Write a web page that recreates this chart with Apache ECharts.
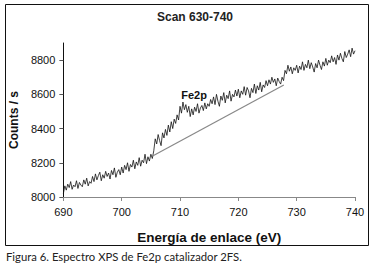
<!DOCTYPE html>
<html>
<head>
<meta charset="utf-8">
<script src="https://cdn.jsdelivr.net/npm/echarts@6/dist/echarts.min.js"></script>
<style>
  html, body { margin: 0; padding: 0; background: #fff; }
  #chart { width: 376px; height: 271px; }
</style>
</head>
<body>
<div id="chart"></div>
<script>
// Spectrum: one value every 0.25 eV from 690 to 740
var startEnergy = 690;
var energyStep = 0.25;
var counts = [
  8020, 8065, 8040, 8075, 8055, 8090, 8045, 8070, 8060, 8095, 8050, 8085, 8070, 8060, 8100, 8075, 8110, 8065, 8090, 8080,
  8120, 8090, 8135, 8100, 8125, 8145, 8095, 8130, 8110, 8150, 8120, 8140, 8105, 8155, 8130, 8170, 8115, 8145, 8160, 8130,
  8175, 8140, 8185, 8160, 8200, 8150, 8190, 8175, 8215, 8165, 8205, 8185, 8230, 8180, 8215, 8200, 8250, 8195, 8235, 8210,
  8250, 8225, 8270, 8340, 8310, 8365, 8330, 8300, 8375, 8345, 8395, 8360, 8420, 8380, 8440, 8400, 8455, 8430, 8480, 8450,
  8530, 8490, 8555, 8510, 8540, 8495, 8530, 8470, 8515, 8480, 8525, 8500, 8545, 8490, 8520, 8535, 8505, 8550, 8515, 8545,
  8530, 8570, 8545, 8585, 8540, 8600, 8560, 8530, 8590, 8565, 8610, 8550, 8595, 8575, 8620, 8560, 8600, 8585, 8625, 8590,
  8630, 8580, 8620, 8600, 8645, 8595, 8640, 8620, 8580, 8635, 8610, 8660, 8605, 8650, 8625, 8670, 8615, 8655, 8640, 8680,
  8650, 8685, 8660, 8700, 8670, 8690, 8650, 8695, 8675, 8660, 8700, 8680, 8740, 8720, 8770, 8735, 8760, 8720, 8755, 8740,
  8770, 8725, 8765, 8745, 8790, 8740, 8775, 8755, 8800, 8750, 8785, 8760, 8730, 8780, 8755, 8800, 8770, 8745, 8790, 8765,
  8810, 8770, 8800, 8785, 8825, 8790, 8815, 8775, 8830, 8800, 8840, 8810, 8790, 8850, 8815, 8835, 8860, 8820, 8870, 8835,
  8855
];

// Background line under the Fe2p peak
var baselineEnergy = [705.3, 727.8];
var baselineCounts = [8240, 8655];

// Peak label position
var peakLabel = 'Fe2p';
var peakEnergy = 712.4;
var peakCounts = 8596;

var spectrum = counts.map(function (c, i) {
  return [startEnergy + i * energyStep, c];
});
var baseline = baselineEnergy.map(function (e, i) {
  return [e, baselineCounts[i]];
});

var chart = echarts.init(document.getElementById('chart'), null, { renderer: 'svg' });

chart.setOption({
  animation: false,
  title: {
    text: 'Scan 630-740',
    left: 190,
    top: 6,
    textAlign: 'center',
    textStyle: { fontFamily: 'Liberation Sans', fontSize: 12, fontWeight: 'bold', color: '#222' }
  },
  grid: { left: 62, right: 21, top: 43, bottom: 74 },
  xAxis: {
    type: 'value',
    min: 690,
    max: 740,
    interval: 10,
    name: 'Energía de enlace (eV)',
    nameLocation: 'middle',
    nameGap: 33,
    nameTextStyle: { fontFamily: 'Liberation Sans', fontSize: 13.5, fontWeight: 'bold', color: '#111' },
    axisLine: { lineStyle: { color: '#888', width: 1 } },
    axisTick: { length: 4, lineStyle: { color: '#888' } },
    axisLabel: { fontFamily: 'Liberation Sans', fontSize: 11, color: '#111', margin: 9 },
    splitLine: { show: false }
  },
  yAxis: {
    type: 'value',
    min: 8000,
    max: 8900,
    interval: 200,
    name: 'Counts / s',
    nameLocation: 'middle',
    nameGap: 42,
    nameTextStyle: { fontFamily: 'Liberation Sans', fontSize: 12, fontWeight: 'bold', color: '#111' },
    axisLine: { show: true, lineStyle: { color: '#111', width: 1 } },
    axisTick: { show: true, length: 4, lineStyle: { color: '#555' } },
    axisLabel: {
      fontFamily: 'Liberation Sans', fontSize: 11, color: '#111', margin: 8, showMaxLabel: false,
      formatter: function (v) { return String(v); }
    },
    splitLine: { show: false }
  },
  series: [
    {
      type: 'line',
      data: spectrum,
      showSymbol: false,
      lineStyle: { color: '#111', width: 0.8 },
      markPoint: {
        symbol: 'circle',
        symbolSize: 0,
        data: [{ coord: [peakEnergy, peakCounts] }],
        label: {
          show: true,
          formatter: peakLabel,
          fontFamily: 'Liberation Sans',
          fontSize: 11,
          fontWeight: 'bold',
          color: '#111'
        }
      }
    },
    {
      type: 'line',
      data: baseline,
      showSymbol: false,
      lineStyle: { color: '#888', width: 1.2 }
    }
  ],
  graphic: [
    {
      type: 'rect',
      shape: { x: 5.5, y: 4.5, width: 363, height: 241 },
      style: { fill: 'none', stroke: '#111', lineWidth: 1 }
    },
    {
      type: 'text',
      left: 6,
      top: 251,
      style: {
        text: 'Figura 6. Espectro XPS de Fe2p catalizador 2FS.',
        font: '11.3px Lato',
        fill: '#222'
      }
    }
  ]
});
</script>
</body>
</html>
